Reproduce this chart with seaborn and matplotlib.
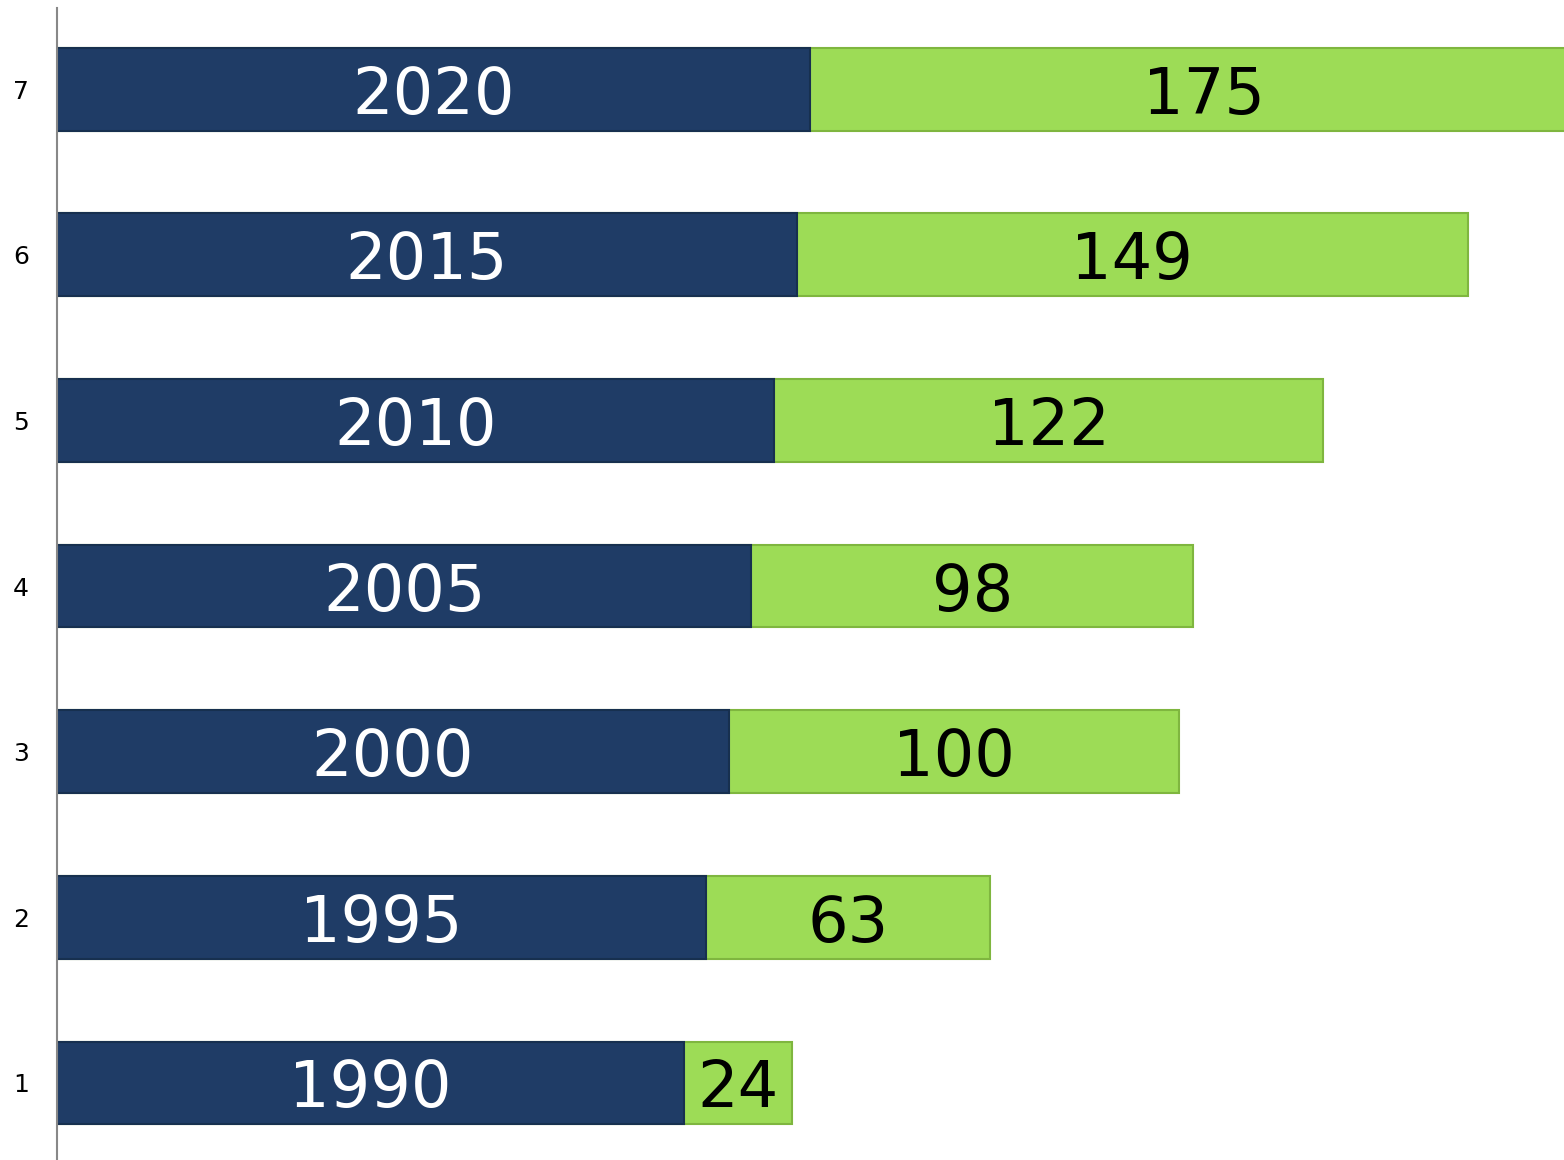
import matplotlib
matplotlib.use('Agg')
import matplotlib.pyplot as plt
import pandas as pd
import seaborn as sns

# data
rows = [1, 2, 3, 4, 5, 6, 7]
years = ['1990', '1995', '2000', '2005', '2010', '2015', '2020']
base = [1990, 1995, 2000, 2005, 2010, 2015, 2018]   # blue segment end
extra = [24, 63, 100, 98, 122, 149, 175]            # green segment

df = pd.DataFrame({'row': rows, 'base': base, 'extra': extra, 'year': years})
df['total'] = df['base'] + df['extra']

blue = '#1f3c66'
green = '#9ddc56'
x_left, x_right = 1850.8, 2185.4

sns.set_style('white')
fig = plt.figure(figsize=(15.64, 11.6), dpi=100)
ax = fig.add_axes([57 / 1564, 0, 1 - 57 / 1564, 1152 / 1160])

sns.barplot(data=df, x='total', y='row', orient='h', native_scale=True,
            width=0.5, color=green, saturation=1, ax=ax,
            edgecolor='#7fb63f', linewidth=1.5)
sns.barplot(data=df, x='base', y='row', orient='h', native_scale=True,
            width=0.5, color=blue, saturation=1, ax=ax,
            edgecolor='#17304f', linewidth=1.5)

for r, b, e, yr in zip(rows, base, extra, years):
    ax.text((x_left + b) / 2, r, yr, ha='center', va='center_baseline',
            color='white', fontsize=46)
    ax.text(b + e / 2, r, str(e), ha='center', va='center_baseline',
            color='black', fontsize=46)

ax.set_xlim(x_left, x_right)
ax.set_ylim(0.535, 7.49)
ax.set_yticks(rows)
ax.set_yticklabels([str(r) for r in rows])
ax.set_xticks([])
ax.set_xlabel('')
ax.set_ylabel('')
ax.tick_params(axis='y', length=0, labelsize=18, labelcolor='black', pad=20)
for side in ['top', 'right', 'bottom']:
    ax.spines[side].set_visible(False)
ax.spines['left'].set_color('#888888')
ax.spines['left'].set_linewidth(1.5)

fig.savefig('out.png', dpi=100)
